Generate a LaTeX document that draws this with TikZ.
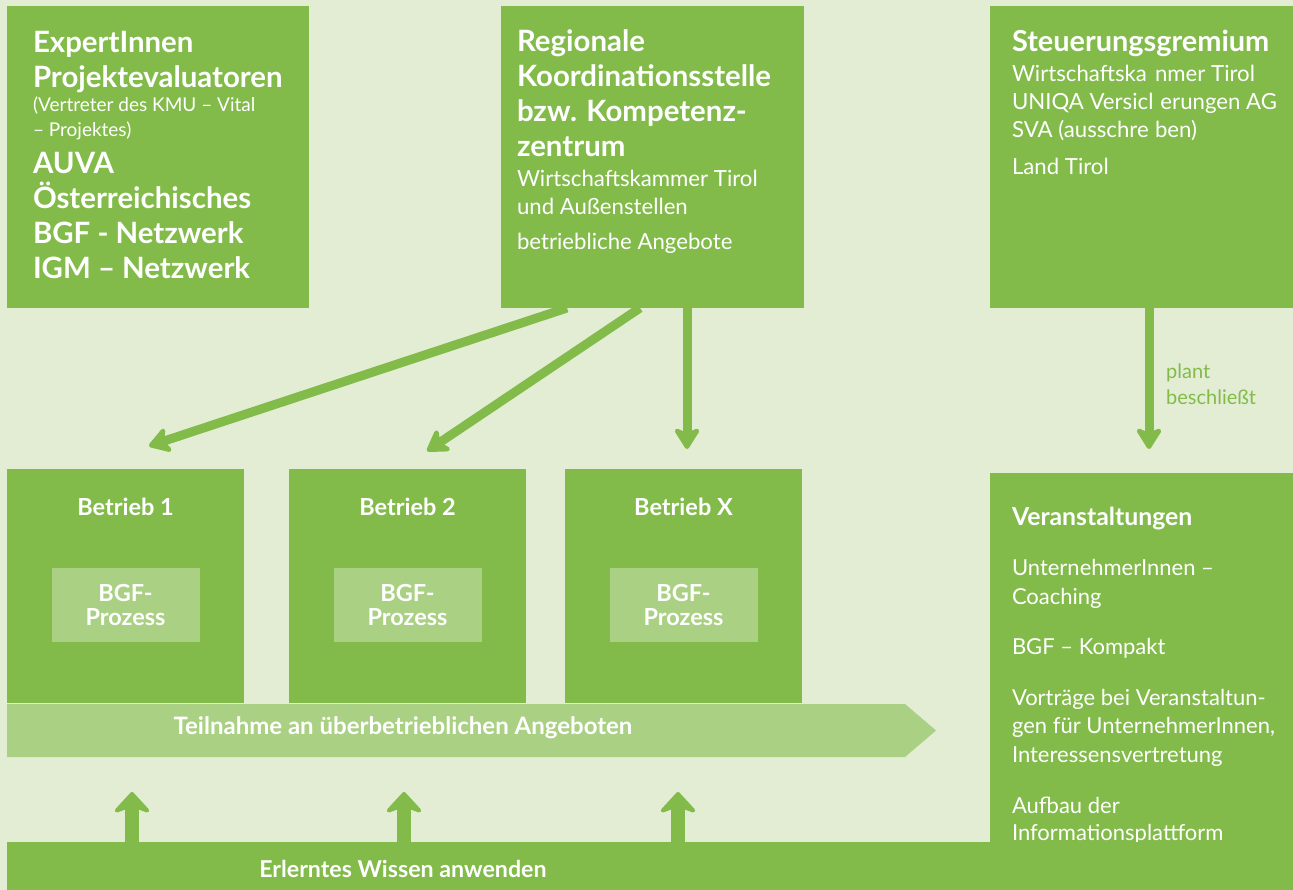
\documentclass[tikz,border=0pt]{standalone}
\usepackage{fontspec}
\setmainfont{Lato}
\usetikzlibrary{arrows.meta,calc}
\definecolor{bg}{HTML}{E2EDD3}
\definecolor{gr}{HTML}{82BB4A}
\definecolor{lg}{HTML}{AAD084}
\begin{document}
\begin{tikzpicture}[x=1pt,y=-1pt,
  box/.style={fill=gr, draw=none, inner sep=0pt, outer sep=0pt, anchor=north west},
  procbox/.style={fill=lg, draw=none, inner sep=0pt, outer sep=0pt, minimum width=148pt, minimum height=74pt, text=white, align=center, font=\fontsize{23.5}{24}\selectfont\bfseries},
  txt/.style={text=white, anchor=base west, inner sep=0pt, outer sep=0pt},
  ctitle/.style={text=white, inner sep=0pt, font=\fontsize{23.5}{28}\selectfont\bfseries},
  arr/.style={draw=gr, line width=9pt, -{Stealth[length=25pt,width=31pt,inset=7pt,round]}},
  uparr/.style={draw=gr, line width=14pt, -{Stealth[length=24pt,width=44pt,inset=8pt,round]}},
]
% background
\fill[bg] (0,0) rectangle (1293,890);
\useasboundingbox (0,0) rectangle (1293,890);

% top boxes
\node[box, minimum width=302pt, minimum height=302pt] (expert) at (7,6) {};
\node[box, minimum width=303pt, minimum height=302pt] (regional) at (501,6) {};
\node[box, minimum width=303pt, minimum height=302pt] (steuer) at (990,6) {};

% expert text
\node[txt] (e1) at (33,53) {\parbox[t]{270pt}{\fontsize{29.4}{35}\selectfont\bfseries ExpertInnen\\Projektevaluatoren}};
\node[txt] (e2) at (33,112) {\parbox[t]{270pt}{\fontsize{19}{25}\selectfont (Vertreter des KMU – Vital\\– Projektes)}};
\node[txt] (e3) at (33,174) {\parbox[t]{270pt}{\fontsize{29.4}{35}\selectfont\bfseries AUVA\\Österreichisches\\BGF - Netzwerk\\IGM – Netzwerk}};

% regional text
\node[txt] (r1) at (517,52) {\parbox[t]{280pt}{\fontsize{29.4}{35}\selectfont\bfseries Regionale\\Koordinationsstelle\\bzw. Kompetenz-\\zentrum}};
\node[txt] (r2) at (517,187) {\parbox[t]{280pt}{\fontsize{22.2}{28}\selectfont Wirtschaftskammer Tirol\\und Außenstellen}};
\node[txt] (r3) at (517,250) {\fontsize{22.2}{28}\selectfont betriebliche Angebote};

% steuerung text
\node[txt] (s1) at (1012,52) {\fontsize{28.9}{35}\selectfont\bfseries Steuerungsgremium};
\node[txt] (s2) at (1012,82) {\parbox[t]{280pt}{\fontsize{22.2}{28}\selectfont
  \makebox[143pt][l]{Wirtschaftska}nmer Tirol\\
  UNIQA Versicl\hspace{7pt}erungen AG\\
  \makebox[143pt][l]{SVA (ausschre}ben)}};
\node[txt] (s3) at (1012,175) {\fontsize{22.2}{28}\selectfont Land Tirol};

% Veranstaltungen box
\node[box, minimum width=303pt, minimum height=417pt] (veran) at (990,473) {};
\node[txt] (v0) at (1012,525) {\fontsize{24.8}{35}\selectfont\bfseries Veranstaltungen};
\node[txt] (v1) at (1012,575) {\parbox[t]{280pt}{\fontsize{22}{29}\selectfont UnternehmerInnen –\\Coaching}};
\node[txt] (v2) at (1012,654) {\fontsize{22}{29}\selectfont BGF – Kompakt};
\node[txt] (v3) at (1012,705) {\parbox[t]{280pt}{\fontsize{22}{28.5}\selectfont Vorträge bei Veranstaltun-\\gen für UnternehmerInnen,\\Interessensvertretung}};
\node[txt] (v4) at (1012,813) {\parbox[t]{280pt}{\fontsize{22}{27}\selectfont Aufbau der\\Informationsplattform}};

% Betrieb boxes
\node[box, minimum width=237pt, minimum height=234pt] (b1) at (7,469) {};
\node[box, minimum width=237pt, minimum height=234pt] (b2) at (289,469) {};
\node[box, minimum width=237pt, minimum height=234pt] (bx) at (565,469) {};
\node[ctitle] (b1t) at ($(b1.north)+(0,38)$) {Betrieb 1};
\node[ctitle] (b2t) at ($(b2.north)+(0,38)$) {Betrieb 2};
\node[ctitle] (bxt) at ($(bx.north)+(0,38)$) {Betrieb X};
\node[procbox] (p1) at ($(b1.north)+(0,136)$) {BGF-\\Prozess};
\node[procbox] (p2) at ($(b2.north)+(0,136)$) {BGF-\\Prozess};
\node[procbox] (px) at ($(bx.north)+(0,136)$) {BGF-\\Prozess};

% band
\fill[lg] (7,704) -- (905,704) -- (936,730.5) -- (905,757) -- (7,757) -- cycle;
\node[text=white, inner sep=0pt, font=\fontsize{24}{24}\selectfont\bfseries] (band) at (403,728) {Teilnahme an überbetrieblichen Angeboten};

% bottom bar
\node[box, minimum width=1286pt, minimum height=48pt] (bar) at (7,842) {};
\node[text=white, inner sep=0pt, font=\fontsize{23.2}{24}\selectfont\bfseries] (bartext) at (403,869) {Erlerntes Wissen anwenden};

% arrow coordinates
\coordinate (t1) at (149,446);
\coordinate (t2) at (427,451);
\coordinate (t3) at (687,449);
\coordinate (ts) at (1149,449);
\coordinate (u1) at (132,792);
\coordinate (u2) at (404,792);
\coordinate (u3) at (678,792);

% arrows
\draw[arr] ($(regional.south west)+(66,0)$) -- (t1);
\draw[arr] ($(regional.south west)+(139,0)$) -- (t2);
\draw[arr] (regional.south -| t3) -- (t3);
\draw[arr] (steuer.south -| ts) -- (ts);
\node[text=gr, anchor=base west, inner sep=0pt, font=\fontsize{20}{25}\selectfont] (plant) at (1166,379) {\parbox[t]{120pt}{plant\\beschließt}};

\draw[uparr] (bar.north -| u1) -- (u1);
\draw[uparr] (bar.north -| u2) -- (u2);
\draw[uparr] (bar.north -| u3) -- (u3);
\end{tikzpicture}
\end{document}
